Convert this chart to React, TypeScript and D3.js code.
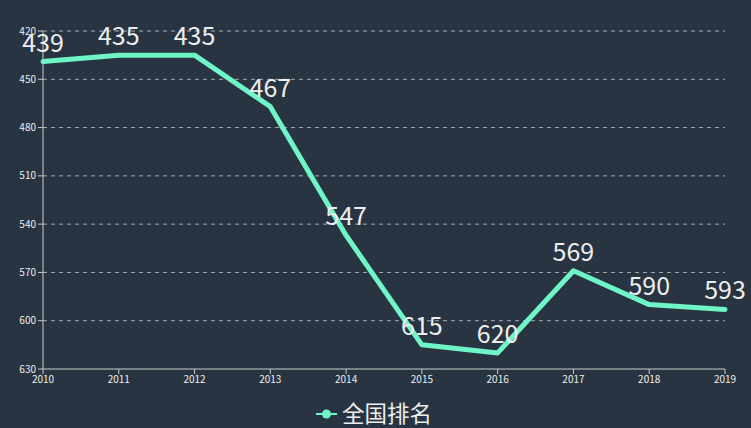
import React from "react";
import * as d3 from "d3";

const years = ["2010", "2011", "2012", "2013", "2014", "2015", "2016", "2017", "2018", "2019"];
const ranks = [439, 435, 435, 467, 547, 615, 620, 569, 590, 593];
const yTicks = [420, 450, 480, 510, 540, 570, 600, 630];
const seriesName = "全国排名";

const W = 751;
const H = 428;
const BG = "#283441";
const LINE = "#6ff5c7";
const FONT = "'Noto Sans CJK SC', 'Noto Sans', sans-serif";

export default function App() {
  const x = d3.scalePoint<string>().domain(years).range([43, 725]);
  const y = d3.scaleLinear().domain([420, 630]).range([31, 369]);
  const line = d3
    .line<number>()
    .x((_, i) => x(years[i]) as number)
    .y((d) => y(d));

  return (
    <svg
      width={W}
      height={H}
      style={{ position: "absolute", left: 0, top: 0, background: BG, fontFamily: FONT }}
    >
      <rect width={W} height={H} fill={BG} />
      {yTicks.slice(0, -1).map((t) => (
        <line
          key={"g" + t}
          x1={43}
          x2={725}
          y1={y(t)}
          y2={y(t)}
          stroke="#c8ccd0"
          strokeWidth={1}
          strokeDasharray="4 4"
          opacity={0.8}
        />
      ))}
      {yTicks.map((t) => (
        <g key={"yt" + t}>
          <line x1={38} x2={43} y1={y(t)} y2={y(t)} stroke="#c8ccd0" />
          <text x={36} y={y(t)} dy="0.35em" textAnchor="end" fontSize={10} fill="#eeeeee">
            {t}
          </text>
        </g>
      ))}
      <line x1={43} x2={43} y1={31} y2={369} stroke="#c8ccd0" />
      <line x1={43} x2={725} y1={369} y2={369} stroke="#c8ccd0" />
      {years.map((yr) => (
        <g key={"xt" + yr}>
          <line x1={x(yr)} x2={x(yr)} y1={369} y2={374} stroke="#c8ccd0" />
          <text x={x(yr)} y={383} textAnchor="middle" fontSize={10} fill="#eeeeee">
            {yr}
          </text>
        </g>
      ))}
      <path
        d={line(ranks) || ""}
        fill="none"
        stroke={LINE}
        strokeWidth={5}
        strokeLinejoin="round"
        strokeLinecap="round"
      />
      {ranks.map((v, i) => (
        <text
          key={"l" + i}
          x={x(years[i])}
          y={y(v) - 10}
          textAnchor="middle"
          fontSize={25}
          fill="#eeeeee"
        >
          {v}
        </text>
      ))}
      <g>
        <line x1={316} x2={337} y1={414} y2={414} stroke={LINE} strokeWidth={2} />
        <circle cx={326.5} cy={414} r={4.5} fill={LINE} />
        <text x={342} y={422} fontSize={22.5} fill="#eeeeee">
          {seriesName}
        </text>
      </g>
    </svg>
  );
}
